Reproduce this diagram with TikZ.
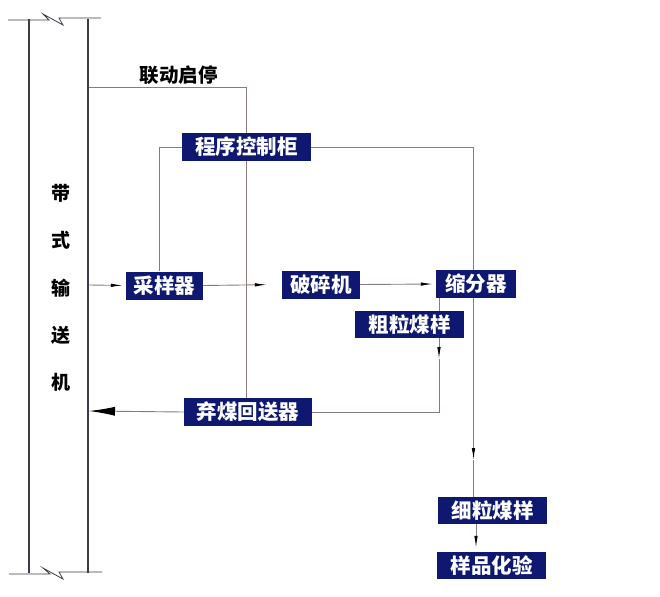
\documentclass[tikz,border=0pt]{standalone}
\usepackage{fontspec}
\newfontfamily\cjk{Noto Sans CJK SC}
\usetikzlibrary{arrows.meta,backgrounds}
\definecolor{navy}{RGB}{14,24,112}
\definecolor{lin}{RGB}{140,122,122}
\definecolor{conv}{RGB}{60,60,70}
\tikzset{
  box/.style={fill=navy,text=white,font=\cjk\bfseries\fontsize{20.5}{20.5}\selectfont,inner sep=0pt,minimum height=28pt},
  lbl/.style={text=black,font=\cjk\bfseries\fontsize{19.5}{19.5}\selectfont,inner sep=0pt},
  vlbl/.style={text=black,font=\cjk\bfseries\fontsize{19}{19}\selectfont,inner sep=0pt},
  conn/.style={draw=lin,line width=0.9pt},
  arr/.style={conn,-{Latex[length=12pt,width=3.5pt,color=black]}},
  bigarr/.style={conn,-{Latex[length=26pt,width=9pt,color=black]}},
  convl/.style={draw=conv,line width=1.1pt}
}
\begin{document}
\begin{tikzpicture}[x=1pt,y=-1pt]
\useasboundingbox (0,0) rectangle (660,596);
% boxes
\node[box,minimum width=129pt] (ctrl) at (246.5,147) {程序控制柜};
\node[box,minimum width=77pt] (samp) at (164.5,285.5) {采样器};
\node[box,minimum width=78pt] (crush) at (321,284.5) {破碎机};
\node[box,minimum width=80pt] (div) at (476,284) {缩分器};
\node[box,minimum width=109pt,minimum height=27pt] (coarse) at (409.5,324.5) {粗粒煤样};
\node[box,minimum width=128pt] (reject) at (248,412) {弃煤回送器};
\node[box,minimum width=109pt,minimum height=27pt] (fine) at (492.5,510.5) {细粒煤样};
\node[box,minimum width=109pt,minimum height=27pt] (test) at (491.5,565.5) {样品化验};
\node[lbl] (link) at (178.5,75) {联动启停};
% conveyor labels
\node[vlbl] (t1) at (61,193) {带};
\node[vlbl] (t2) at (61,240) {式};
\node[vlbl] (t3) at (61,288) {输};
\node[vlbl] (t4) at (61,335) {送};
\node[vlbl] (t5) at (61,382) {机};
% coordinates
\coordinate (cin) at (89,285);
\coordinate (cout) at (89,411);
\coordinate (clink) at (89,87);
\coordinate (cf) at (473.5,460);
\coordinate (cc) at (439,359);
\begin{scope}[on background layer]
% conveyor
\draw[convl] (29,19) -- (29,573);
\draw[convl] (88,19) -- (88,573);
\draw[draw=conv,line width=0.8pt] (8,20) -- (49,20) -- (43,14) -- (63,25) -- (59,18) -- (101,18);
\draw[draw=conv,line width=0.8pt] (9,574) -- (50,574) -- (43,568) -- (63,579) -- (59,572) -- (102,572);
% connectors
\draw[conn] (clink) -- (246,87) -- (246,0 |- reject.north);
\draw[arr,shorten >=3pt] (cin) -- (samp.west);
\draw[arr,shorten >=15pt] (samp.east) -- (crush.west);
\draw[arr,shorten >=3pt] (crush.east) -- (div.west);
\draw[conn] (ctrl.west) -| ([xshift=-5.5pt]samp.north);
\draw[conn] (ctrl.east) -| ([xshift=-2.5pt]div.north);
\draw[arr] ([xshift=-2.5pt]div.south) -- (cf);
\draw[conn] (cf) -- (cf |- fine.north);
\draw[arr,shorten >=4pt] (476,0 |- fine.south) -- (476,0 |- test.north);
\draw[conn] (439,0 |- div.south) -- (439,0 |- coarse.north);
\draw[arr] (439,0 |- coarse.south) -- (cc);
\draw[conn] (cc) |- (reject.east);
\draw[bigarr] (reject.west) -- (cout);
\end{scope}
\end{tikzpicture}
\end{document}
